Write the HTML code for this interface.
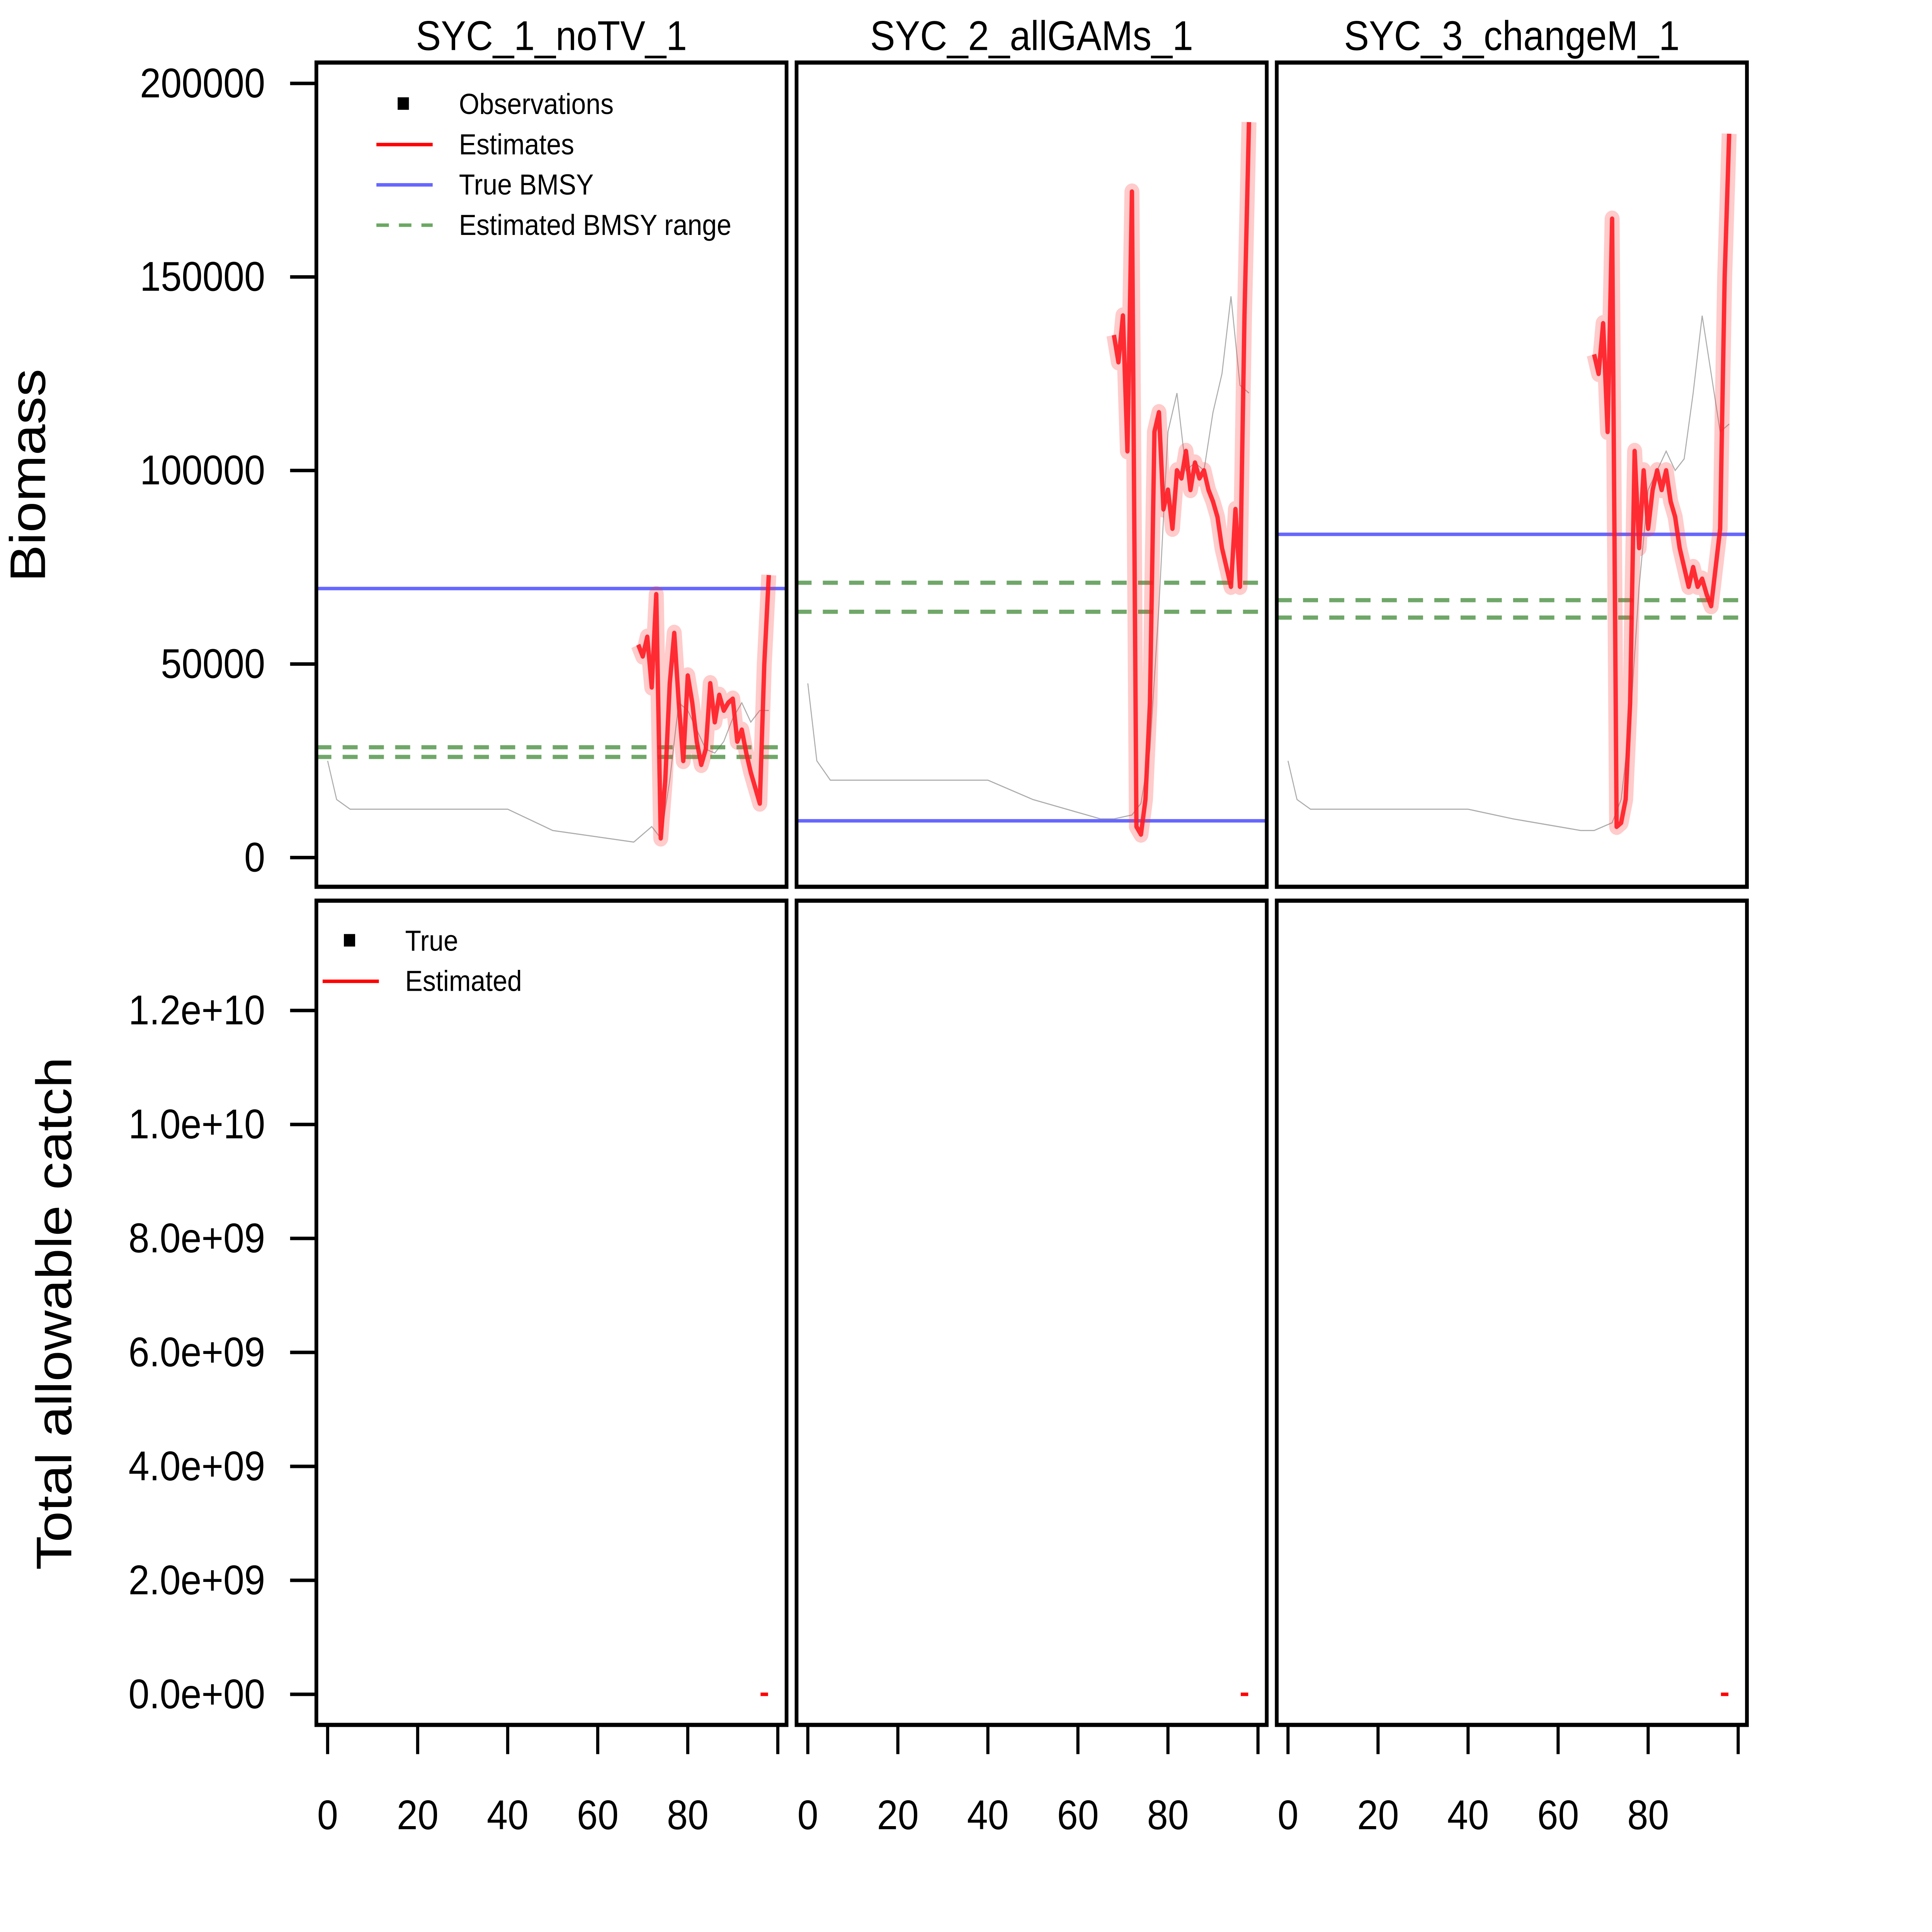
<!DOCTYPE html>
<html><head><meta charset="utf-8"><style>html,body{margin:0;padding:0;background:#fff;overflow:hidden;width:100vw;height:100vh}svg{display:block;position:fixed;left:0;top:0;width:100vw;height:100vh}</style></head>
<body>
<svg id="chart" viewBox="0 0 1545 1390" preserveAspectRatio="none" xmlns="http://www.w3.org/2000/svg" font-family="Liberation Sans, Arial, sans-serif">
<rect width="1545" height="1390" fill="#fff"/>
<g id="plots"></g>
<text x="0" y="0" transform="translate(36,342) rotate(-90)" text-anchor="middle" font-size="40">Biomass</text>
<text x="0" y="0" transform="translate(57,945) rotate(-90)" text-anchor="middle" font-size="40">Total allowable catch</text>
<g font-size="21">
<rect x="318" y="70" width="9" height="9" fill="#000"/><text x="367" y="82">Observations</text>
<line x1="301" y1="104" x2="346" y2="104" stroke="#ff0000" stroke-width="2.5"/><text x="367" y="111">Estimates</text>
<line x1="301" y1="133" x2="346" y2="133" stroke="#6666ff" stroke-width="2.5"/><text x="367" y="140">True BMSY</text>
<line x1="301" y1="162" x2="346" y2="162" stroke="#6aa862" stroke-width="2.5" stroke-dasharray="10,8"/><text x="367" y="169">Estimated BMSY range</text>
</g>
<g font-size="21">
<rect x="275" y="672" width="9" height="9" fill="#000"/><text x="324" y="684">True</text>
<line x1="258" y1="706" x2="303" y2="706" stroke="#ff0000" stroke-width="2.5"/><text x="324" y="713">Estimated</text>
</g>
</svg>
<script>
const panelTitles = ["SYC_1_noTV_1","SYC_2_allGAMs_1","SYC_3_changeM_1"];
const biomassTicks = [0,50000,100000,150000,200000];
const tacTicks = [0,2e9,4e9,6e9,8e9,10e9,12e9];
const tacTickLabels = ["0.0e+00","2.0e+09","4.0e+09","6.0e+09","8.0e+09","1.0e+10","1.2e+10"];
const xTicks = [0,20,40,60,80,100];
const xTickLabels = ["0","20","40","60","80",""];
const estYears = [68,69,70,71,72,73,74,75,76,77,78,79,80,81,82,83,84,85,86,87,88,89,90,91,92,93,94,95,96,97,98];
const est1 = [null,55,52,57,44,68,5,20,45,58,40,25,47,40,30,24,28,45,35,42,38,40,41,30,33,27,22,18,14,50,73];
const est2 = [135,128,140,105,172,8,6,15,40,110,115,90,95,85,100,98,105,95,102,98,100,95,92,88,80,75,70,90,70,140,190];
const est3 = [130,125,138,110,165,8,9,15,40,105,80,100,85,95,100,95,100,92,88,80,75,70,75,70,72,68,65,75,85,150,187];
const trueYears = [0,2,5,40,50,65,68,72,74,76,78,80,82,84,86,88,90,92,94,96,98];
const true1 = [25,15,12.5,12.5,7,4.5,4,8,5,20,40,38,33,28,27,30,36,40,35,38,38];
const true2 = [45,25,20,20,15,10,10,11,14,28,65,110,120,100,102,100,115,125,145,122,120];
const true3 = [25,15,12.5,12.5,10,7,7,9,15,35,70,95,100,105,100,103,120,140,125,110,112];
const trueBmsy = [69500,9500,83500];
const estBmsyLo = [26000,63500,62000];
const estBmsyHi = [28500,71000,66500];
const tacYear = [97,97,97];
const tacValue = [0,0,0];

const NS="http://www.w3.org/2000/svg";
const g=document.getElementById('plots');
function el(t,a,p){const e=document.createElementNS(NS,t);for(const k in a)e.setAttribute(k,a[k]);(p||g).appendChild(e);return e;}
const panelLeft=[253,637,1021], panelW=376;
const topY=45, topH=593, botY=648, botH=593;
function xs(i,v){return panelLeft[i]+9+v*3.6;}
function yb(v){return 617-v*557/200000;}
function yt(v){return 1219-v*492/12e9;}
const ests=[est1,est2,est3], trues=[true1,true2,true3];
for(let i=0;i<3;i++){
  const L=panelLeft[i], R=L+panelW;
  const t=el('text',{x:L+panelW/2,y:36,'text-anchor':'middle','font-size':30});
  t.textContent=panelTitles[i];
  
  
  let d=trueYears.map((y,k)=>(k?'L':'M')+xs(i,y)+' '+yb(trues[i][k]*1000)).join(' ');
  const tl=el('path',{d:d,fill:'none',stroke:'#888','stroke-width':0.8,'stroke-opacity':0.7});
  
  
  const bl=el('line',{x1:L,x2:R,y1:yb(trueBmsy[i]),y2:yb(trueBmsy[i]),stroke:'#6666ff','stroke-width':2.5});
  
  
  [estBmsyLo[i],estBmsyHi[i]].forEach((v,k)=>{
    const e=el('line',{x1:L,x2:R,y1:yb(v),y2:yb(v),stroke:'#3f8a35','stroke-opacity':0.75,'stroke-width':3,'stroke-dasharray':'12,9'});
    
    
  });
  const pts=[];estYears.forEach((y,k)=>{if(ests[i][k]!=null)pts.push([xs(i,y),yb(ests[i][k]*1000)]);});
  d=pts.map((p,k)=>(k?'L':'M')+p[0]+' '+p[1]).join(' ');
  const band=el('path',{d:d,fill:'none',stroke:'#ff3030','stroke-opacity':0.25,'stroke-width':12,'stroke-linejoin':'round'});
  
  
  const el2=el('path',{d:d,fill:'none',stroke:'#ff1a22','stroke-opacity':0.9,'stroke-width':3.5,'stroke-linejoin':'round'});
  
  
  const tm=el('line',{x1:xs(i,tacYear[i])-3,x2:xs(i,tacYear[i])+3,y1:yt(tacValue[i]),y2:yt(tacValue[i]),stroke:'#ff0000','stroke-width':2.5});
  
  
  const f1=el('rect',{x:L,y:topY,width:panelW,height:topH,fill:'none',stroke:'#000','stroke-width':3});
  
  
  const f2=el('rect',{x:L,y:botY,width:panelW,height:botH,fill:'none',stroke:'#000','stroke-width':3});
  
  
  const ax=el('line',{x1:xs(i,0),x2:xs(i,100),y1:1241,y2:1241,stroke:'#000','stroke-width':2.5});
  
  
  xTicks.forEach((v,k)=>{
    el('line',{x1:xs(i,v),x2:xs(i,v),y1:1241,y2:1262,stroke:'#000','stroke-width':2.5});
    const tx=el('text',{x:xs(i,v),y:1316,'text-anchor':'middle','font-size':30});
    tx.textContent=xTickLabels[k];
    
    
  });
}
biomassTicks.forEach(v=>{
  el('line',{x1:232,x2:253,y1:yb(v),y2:yb(v),stroke:'#000','stroke-width':2.5});
  const tx=el('text',{x:212,y:yb(v)+10,'text-anchor':'end','font-size':30});
  tx.textContent=String(v);
  
  
});
tacTicks.forEach((v,k)=>{
  el('line',{x1:232,x2:253,y1:yt(v),y2:yt(v),stroke:'#000','stroke-width':2.5});
  const tx=el('text',{x:212,y:yt(v)+10,'text-anchor':'end','font-size':30});
  tx.textContent=tacTickLabels[k];
  
  
});
</script>
</body></html>
